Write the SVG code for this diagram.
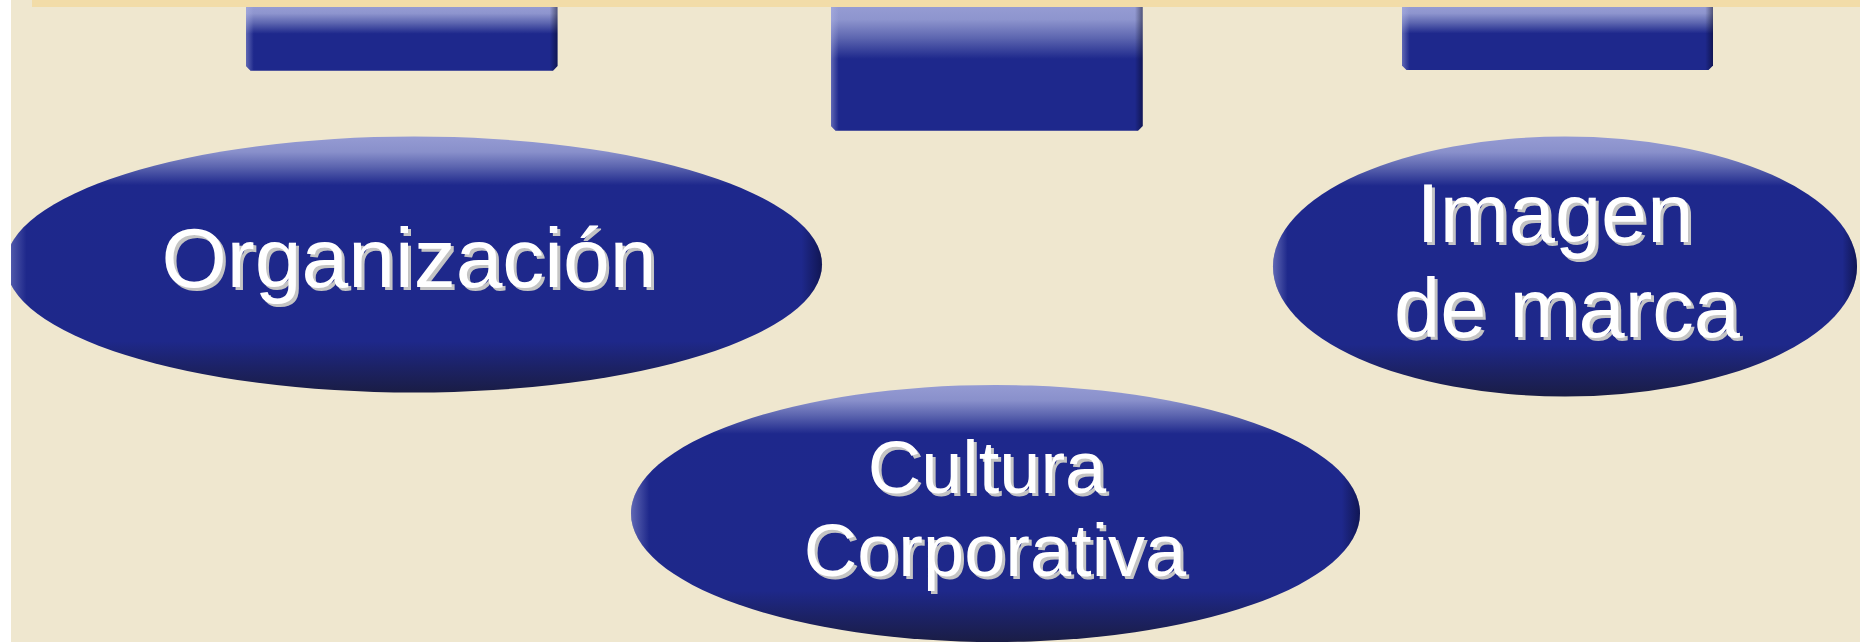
<svg xmlns="http://www.w3.org/2000/svg" width="1860" height="642" viewBox="0 0 1860 642">
<defs>
<linearGradient id="vRect" x1="0" y1="0" x2="0" y2="1">
<stop offset="0" stop-color="#959BD3"/>
<stop offset="0.1" stop-color="#8E95CE"/>
<stop offset="0.25" stop-color="#5D66B0"/>
<stop offset="0.42" stop-color="#1E288C"/>
<stop offset="1" stop-color="#1E288C"/>
</linearGradient>
<linearGradient id="vEll" x1="0" y1="0" x2="0" y2="1">
<stop offset="0" stop-color="#959BD3"/>
<stop offset="0.06" stop-color="#8990CB"/>
<stop offset="0.12" stop-color="#5A63AE"/>
<stop offset="0.19" stop-color="#1E288C"/>
<stop offset="0.8" stop-color="#1E288A"/>
<stop offset="0.9" stop-color="#1C2266"/>
<stop offset="1" stop-color="#1A1D45"/>
</linearGradient>
<linearGradient id="hEdge" x1="0" y1="0" x2="1" y2="0">
<stop offset="0" stop-color="#B0B6E6" stop-opacity="0.45"/>
<stop offset="0.025" stop-color="#B0B6E6" stop-opacity="0"/>
<stop offset="0.975" stop-color="#000010" stop-opacity="0"/>
<stop offset="1" stop-color="#000010" stop-opacity="0.45"/>
</linearGradient>
<clipPath id="page"><rect x="11" y="0" width="1849" height="642"/></clipPath>
</defs>
<style>
.lbl{font-family:"Liberation Sans",Arial,sans-serif;text-anchor:middle;}
.sh{fill:#C4C4C4;}
.fg{fill:#FFFFFF;}
</style>
<rect x="0" y="0" width="1860" height="642" fill="#FFFFFF"/>
<g clip-path="url(#page)">
<rect x="11" y="0" width="1849" height="642" fill="#EFE7CF"/>
<rect x="32" y="0" width="1828" height="7" fill="#F2DCA8"/>

<g id="box-left">
<path d="M246 7 H557.5 V66 L553 70.7 H250.5 L246 66 Z" fill="url(#vRect)"/>
<path d="M246 7 H557.5 V66 L553 70.7 H250.5 L246 66 Z" fill="url(#hEdge)"/>
</g>
<g id="box-middle">
<path d="M831 7 H1142.7 V126 L1138 130.7 H835.5 L831 126 Z" fill="url(#vRect)"/>
<path d="M831 7 H1142.7 V126 L1138 130.7 H835.5 L831 126 Z" fill="url(#hEdge)"/>
</g>
<g id="box-right">
<path d="M1402 7 H1713 V65.5 L1708.5 70 H1406.5 L1402 65.5 Z" fill="url(#vRect)"/>
<path d="M1402 7 H1713 V65.5 L1708.5 70 H1406.5 L1402 65.5 Z" fill="url(#hEdge)"/>
</g>

<g id="node-organizacion">
<ellipse cx="414" cy="264.5" rx="408" ry="128" fill="url(#vEll)"/>
<ellipse cx="414" cy="264.5" rx="408" ry="128" fill="url(#hEdge)"/>
<text class="lbl sh" x="412" y="289.5" font-size="84">Organización</text>
<text class="lbl fg" x="409" y="286.5" font-size="84">Organización</text>
</g>

<g id="node-imagen">
<ellipse cx="1565" cy="266.5" rx="292" ry="130" fill="url(#vEll)"/>
<ellipse cx="1565" cy="266.5" rx="292" ry="130" fill="url(#hEdge)"/>
<text class="lbl sh" font-size="83"><tspan x="1558" y="244.5">Imagen</tspan><tspan x="1570" y="339.5">de marca</tspan></text>
<text class="lbl fg" font-size="83"><tspan x="1555" y="241.5">Imagen</tspan><tspan x="1567" y="336.5">de marca</tspan></text>
</g>

<g id="node-cultura">
<ellipse cx="995.5" cy="513.5" rx="364.5" ry="128.5" fill="url(#vEll)"/>
<ellipse cx="995.5" cy="513.5" rx="364.5" ry="128.5" fill="url(#hEdge)"/>
<text class="lbl sh" font-size="74"><tspan x="990" y="496">Cultura</tspan><tspan x="998" y="579">Corporativa</tspan></text>
<text class="lbl fg" font-size="74"><tspan x="987" y="493">Cultura</tspan><tspan x="995" y="576">Corporativa</tspan></text>
</g>
<g id="connectors"/>
</g>
</svg>
